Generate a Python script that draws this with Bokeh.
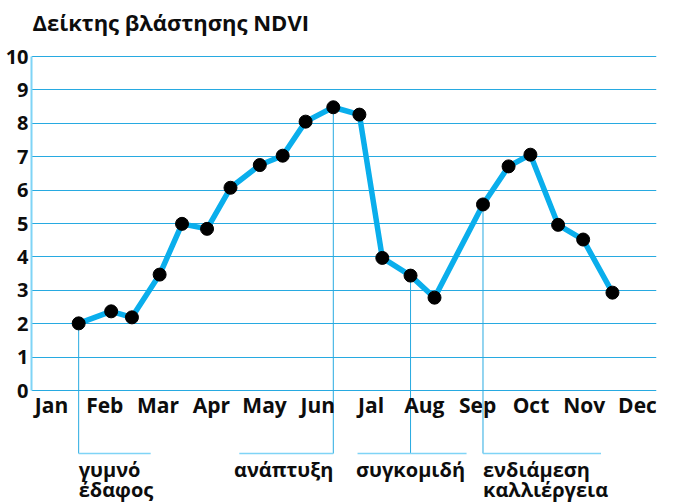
from bokeh.plotting import figure
from bokeh.models import Range1d, FixedTicker
from bokeh.core.properties import value
from bokeh.embed import file_html
from bokeh.resources import INLINE

# ---------------- data ----------------
title_text = "Δείκτης βλάστησης NDVI"
months = ["Jan", "Feb", "Mar", "Apr", "May", "Jun", "Jal", "Aug", "Sep", "Oct", "Nov", "Dec"]
y_ticks = [0, 1, 2, 3, 4, 5, 6, 7, 8, 9, 10]

obs_month = [0.51, 1.12, 1.51, 2.03, 2.45, 2.92, 3.36, 3.91, 4.34, 4.77, 5.29,
             5.78, 6.21, 6.74, 7.19, 8.10, 8.58, 8.99, 9.51, 9.98, 10.53]
ndvi = [2.01, 2.37, 2.19, 3.47, 4.99, 4.84, 6.07, 6.75, 7.03, 8.05, 8.48,
        8.26, 3.97, 3.44, 2.78, 5.57, 6.71, 7.06, 4.96, 4.52, 2.93]

phase_lines = [["γυμνό", "έδαφος"], ["ανάπτυξη"], ["συγκομιδή"], ["ενδιάμεση", "καλλιέργεια"]]
phase_point = [0, 10, 13, 15]

# ---------------- style / layout ----------------
FONT = "Open Sans"
TXT = "#0d0d0d"
GRID = "#27aae1"
LINE = "#0aaeec"
AXIS_LIGHT = "#7fd4f6"
PX_X = 53.27
PX_Y = 33.4
X0, X1 = -0.3754, 11.357
Y_MAX = max(y_ticks)
Y0, Y1 = -3.353, Y_MAX + 56 / PX_Y

phase_align = ["left", "right", "center", "left"]
phase_bar_px = [(0, 72), (-94, 0), (-53, 56), (0, 118)]
bar_drop_px = 63
text_first_px = 79
text_gap_px = 20
title_rise_px = 35

p = figure(width=681, height=502, x_range=Range1d(X0, X1), y_range=Range1d(Y0, Y1),
           output_backend="svg", toolbar_location=None,
           min_border_left=31, min_border_right=25, min_border_top=0, min_border_bottom=0)
p.outline_line_color = None
p.background_fill_color = "white"
p.border_fill_color = "white"

p.xgrid.visible = False
p.ygrid.ticker = FixedTicker(ticks=y_ticks)
p.ygrid.grid_line_color = GRID
p.ygrid.grid_line_width = 1

ya = p.yaxis[0]
ya.ticker = FixedTicker(ticks=y_ticks)
ya.bounds = (0, Y_MAX)
ya.axis_line_color = AXIS_LIGHT
ya.axis_line_width = 2
ya.major_tick_line_color = None
ya.minor_tick_line_color = None
ya.major_tick_out = 0
ya.major_tick_in = 0
ya.major_label_standoff = 3
ya.major_label_text_font = FONT
ya.major_label_text_font_style = "bold"
ya.major_label_text_font_size = "20px"
ya.major_label_text_color = TXT

xa = p.xaxis[0]
xa.ticker = FixedTicker(ticks=list(range(len(months))))
xa.major_label_overrides = {i: m for i, m in enumerate(months)}
xa.fixed_location = 0
xa.axis_line_color = None
xa.major_tick_line_color = None
xa.minor_tick_line_color = None
xa.major_tick_out = 0
xa.major_tick_in = 0
xa.major_label_standoff = 0
xa.major_label_text_font = FONT
xa.major_label_text_font_style = "bold"
xa.major_label_text_font_size = "21px"
xa.major_label_text_color = TXT

# title (inside the frame, above the top grid line)
p.text(x=[X0], y=[Y_MAX + title_rise_px / PX_Y], text=[title_text], x_offset=1,
       text_font=value(FONT), text_font_style="bold", text_font_size="22px",
       text_color=TXT, text_align="left", text_baseline="alphabetic")

# phase annotations
bar_y = -bar_drop_px / PX_Y
vx, vy0, vy1 = [], [], []
hx0, hx1 = [], []
for k, idx in enumerate(phase_point):
    px = obs_month[idx]
    vx.append(px)
    vy0.append(ndvi[idx])
    vy1.append(bar_y)
    hx0.append(px + phase_bar_px[k][0] / PX_X)
    hx1.append(px + phase_bar_px[k][1] / PX_X)
p.segment(x0=vx, y0=vy0, x1=vx, y1=vy1, line_color=GRID, line_width=1)
p.segment(x0=hx0, y0=[bar_y] * len(hx0), x1=hx1, y1=[bar_y] * len(hx0),
          line_color=AXIS_LIGHT, line_width=1.5)

for k, idx in enumerate(phase_point):
    lines = phase_lines[k]
    ys = [-(text_first_px + j * text_gap_px) / PX_Y for j in range(len(lines))]
    p.text(x=[obs_month[idx]] * len(lines), y=ys, text=lines,
           text_font=value(FONT), text_font_style="bold", text_font_size="20px",
           text_color=TXT, text_align=phase_align[k], text_baseline="alphabetic")

p.line(obs_month, ndvi, line_color=LINE, line_width=5.5, line_join="round")
p.scatter(obs_month, ndvi, size=13, fill_color="black", line_color="black")

open("out.html", "w").write(file_html(p, INLINE))
